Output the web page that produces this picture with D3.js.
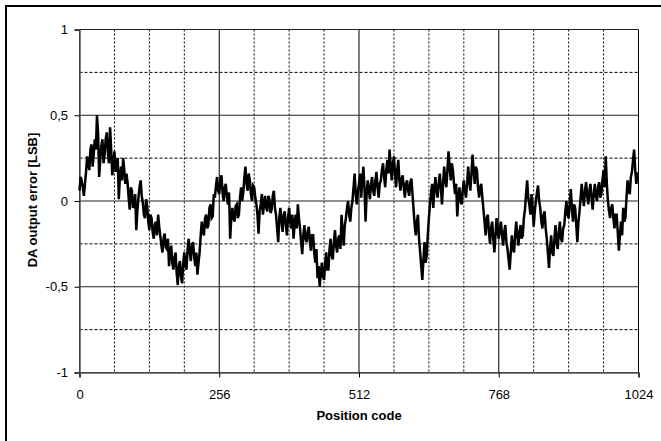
<!DOCTYPE html>
<html>
<head>
<meta charset="utf-8">
<style>
body, html {
	margin: 0;
	width: 661px;
	height: 441px;
	background: #fff;
	overflow: hidden;
}
svg text {
	font-family: "Liberation Sans", Arial, sans-serif;
	font-size: 13px;
	fill: #000;
}
</style>
</head>
<body>
<div id="chartContainer"></div>
<script src="https://cdn.jsdelivr.net/npm/d3@7"></script>
<script>

// position code step between samples
const CODE_STEP = 2;

// DA output error [LSB], one value every CODE_STEP codes
const errorValues = [
	0.06, 0.14, 0.12, 0.08, 0.03, 0.10, 0.17, 0.26, 0.22, 0.18, 0.30, 0.33, 0.20, 0.27, 0.36, 0.30,
	0.50, 0.40, 0.14, 0.24, 0.32, 0.36, 0.22, 0.27, 0.36, 0.40, 0.28, 0.22, 0.43, 0.30, 0.15, 0.22,
	0.29, 0.17, 0.21, 0.25, 0.01, 0.14, 0.20, 0.12, 0.25, 0.18, 0.10, 0.16, 0.11, 0.02, -0.05, 0.08,
	0.06, -0.04, -0.02, 0.04, -0.17, -0.06, 0.02, 0.08, 0.12, 0.03, -0.01, -0.08, -0.10, 0.01, -0.03, -0.12,
	-0.17, -0.08, -0.10, -0.18, -0.22, -0.14, -0.12, -0.20, -0.08, -0.15, -0.20, -0.26, -0.30, -0.22, -0.19, -0.27,
	-0.28, -0.22, -0.38, -0.30, -0.26, -0.36, -0.40, -0.33, -0.30, -0.42, -0.49, -0.38, -0.35, -0.44, -0.48, -0.36,
	-0.30, -0.38, -0.40, -0.28, -0.22, -0.30, -0.35, -0.26, -0.24, -0.32, -0.38, -0.30, -0.43, -0.36, -0.30, -0.20,
	-0.12, -0.18, -0.20, -0.10, -0.08, -0.16, -0.14, -0.04, -0.02, -0.10, -0.09, 0.04, 0.02, 0.09, 0.14, 0.06,
	0.04, 0.12, 0.15, 0.05, 0.00, 0.08, 0.10, 0.02, -0.02, 0.05, -0.22, -0.10, -0.04, -0.10, -0.12, -0.03,
	-0.02, -0.10, -0.08, 0.02, 0.08, 0.00, 0.05, 0.14, 0.20, 0.10, 0.06, 0.16, 0.12, 0.04, 0.00, 0.09,
	0.08, 0.02, -0.02, -0.08, -0.19, -0.06, -0.02, 0.04, -0.08, -0.02, 0.03, -0.04, -0.06, 0.03, 0.01, -0.07,
	-0.05, 0.03, 0.06, -0.04, -0.08, -0.16, -0.24, -0.10, -0.04, -0.12, -0.18, -0.08, -0.06, -0.14, -0.20, -0.10,
	-0.04, -0.12, -0.16, -0.08, -0.22, -0.14, -0.08, -0.16, -0.02, -0.10, -0.16, -0.24, -0.31, -0.20, -0.14, -0.22,
	-0.24, -0.18, -0.15, -0.24, -0.29, -0.20, -0.20, -0.30, -0.36, -0.28, -0.45, -0.38, -0.50, -0.42, -0.36, -0.44,
	-0.46, -0.36, -0.30, -0.40, -0.40, -0.28, -0.22, -0.32, -0.34, -0.24, -0.17, -0.26, -0.30, -0.22, -0.20, -0.28,
	-0.08, -0.18, -0.26, -0.14, -0.10, -0.04, 0.00, -0.08, -0.12, -0.04, 0.00, 0.08, 0.16, 0.04, -0.02, 0.06,
	0.10, 0.16, 0.02, 0.12, 0.20, 0.08, -0.12, 0.04, 0.12, 0.06, 0.01, 0.10, 0.14, 0.06, 0.03, 0.12,
	0.17, 0.08, 0.02, 0.10, 0.12, 0.18, 0.22, 0.14, 0.08, 0.18, 0.24, 0.16, 0.30, 0.20, 0.12, 0.22,
	0.26, 0.16, 0.08, 0.18, 0.24, 0.12, 0.06, 0.13, 0.15, 0.08, 0.02, 0.10, 0.12, 0.06, 0.03, 0.11,
	0.13, 0.04, -0.05, -0.14, -0.20, -0.12, -0.08, -0.22, -0.30, -0.38, -0.46, -0.34, -0.24, -0.36, -0.32, -0.20,
	-0.10, -0.02, 0.05, 0.10, -0.04, 0.06, 0.14, 0.06, 0.02, 0.10, 0.16, 0.08, -0.02, 0.10, 0.20, 0.12,
	0.08, 0.18, 0.29, 0.20, 0.12, 0.22, 0.18, 0.10, 0.04, 0.10, -0.09, 0.02, 0.08, 0.00, -0.02, 0.06,
	0.12, 0.06, 0.02, 0.10, 0.20, 0.12, 0.06, 0.16, 0.27, 0.18, 0.10, 0.20, 0.18, 0.08, 0.02, 0.08,
	0.10, 0.02, -0.05, -0.12, -0.20, -0.10, -0.08, -0.18, -0.25, -0.16, -0.12, -0.22, -0.30, -0.20, -0.10, -0.18,
	-0.22, -0.16, -0.12, -0.20, -0.26, -0.18, -0.14, -0.24, -0.28, -0.34, -0.40, -0.30, -0.20, -0.28, -0.30, -0.20,
	-0.12, -0.20, -0.26, -0.18, -0.14, -0.22, -0.20, -0.10, -0.05, 0.04, 0.12, 0.02, -0.02, -0.08, 0.04, -0.04,
	-0.15, -0.06, 0.00, 0.05, 0.09, 0.00, -0.04, -0.12, -0.16, -0.08, -0.06, -0.16, -0.22, -0.30, -0.39, -0.28,
	-0.20, -0.30, -0.32, -0.22, -0.14, -0.24, -0.28, -0.18, -0.12, -0.22, -0.24, -0.16, -0.14, -0.06, 0.00, -0.08,
	-0.10, -0.02, 0.07, -0.04, -0.12, -0.02, -0.04, -0.14, -0.24, -0.12, -0.06, 0.02, 0.10, 0.02, -0.03, 0.06,
	0.11, 0.03, -0.02, 0.06, 0.10, 0.02, -0.05, 0.04, 0.10, 0.03, 0.00, 0.08, 0.11, 0.02, 0.04, 0.12,
	0.18, 0.08, 0.26, 0.10, 0.00, -0.06, -0.10, -0.04, -0.02, -0.10, -0.16, -0.08, -0.08, -0.18, -0.29, -0.20,
	-0.12, -0.20, -0.04, -0.12, -0.10, 0.02, 0.12, 0.06, 0.04, 0.14, 0.17, 0.24, 0.30, 0.18, 0.10, 0.16,
	0.16
];

const xTicks = [0, 256, 512, 768, 1024];
const xMinorTicks = [64, 128, 192, 320, 384, 448, 576, 640, 704, 832, 896, 960];
const yTicks = [1, 0.5, 0, -0.5, -1];
const yMinorTicks = [0.75, 0.25, -0.25, -0.75];

const X_TITLE = "Position code";
const Y_TITLE = "DA output error [LSB]";

const WIDTH = 661;
const HEIGHT = 441;
const PLOT = { left: 79.5, right: 638.5, top: 29.5, bottom: 372.5 };

const svg = d3.select("#chartContainer").append("svg")
	.attr("width", WIDTH)
	.attr("height", HEIGHT);

// chart frame (only left and top edges are inside the picture)
svg.append("path")
	.attr("d", `M6,${HEIGHT} L6,6 L${WIDTH},6`)
	.attr("fill", "none")
	.attr("stroke", "#000")
	.attr("stroke-width", 2);

const x = d3.scaleLinear().domain([0, 1024]).range([PLOT.left, PLOT.right]);
const y = d3.scaleLinear().domain([-1, 1]).range([PLOT.bottom, PLOT.top]);

const grid = svg.append("g").attr("class", "grid");

grid.selectAll(".vminor")
	.data(xMinorTicks)
	.enter().append("line")
		.attr("x1", (d) => x(d)).attr("x2", (d) => x(d))
		.attr("y1", PLOT.top).attr("y2", PLOT.bottom)
		.attr("stroke", "#000")
		.attr("stroke-dasharray", "2,2");

grid.selectAll(".hminor")
	.data(yMinorTicks)
	.enter().append("line")
		.attr("x1", PLOT.left).attr("x2", PLOT.right)
		.attr("y1", (d) => y(d)).attr("y2", (d) => y(d))
		.attr("stroke", "#000")
		.attr("stroke-dasharray", "3,2");

grid.selectAll(".vmajor")
	.data(xTicks)
	.enter().append("line")
		.attr("x1", (d) => x(d)).attr("x2", (d) => x(d))
		.attr("y1", PLOT.top).attr("y2", PLOT.bottom)
		.attr("stroke", "#000");

grid.selectAll(".hmajor")
	.data(yTicks)
	.enter().append("line")
		.attr("x1", PLOT.left).attr("x2", PLOT.right)
		.attr("y1", (d) => y(d)).attr("y2", (d) => y(d))
		.attr("stroke", "#222");

// axes
const fmt = (d) => String(d).replace(".", ",");

svg.append("g")
	.attr("transform", `translate(0,${PLOT.bottom})`)
	.call(d3.axisBottom(x).tickValues(xTicks).tickSize(5).tickPadding(12).tickFormat(fmt))
	.call((g) => g.select(".domain").attr("stroke", "#555").attr("stroke-width", 1.5))
	.call((g) => g.selectAll("text").attr("font-family", null).attr("font-size", null));

svg.append("g")
	.attr("transform", `translate(${PLOT.left},0)`)
	.call(d3.axisLeft(y).tickValues(yTicks).tickSize(5).tickPadding(6.5).tickFormat(fmt))
	.call((g) => g.select(".domain").attr("stroke", "#555").attr("stroke-width", 1.5))
	.call((g) => g.selectAll("text").attr("font-family", null).attr("font-size", null));

svg.append("text")
	.attr("x", 359)
	.attr("y", 420)
	.attr("text-anchor", "middle")
	.attr("font-weight", "bold")
	.text(X_TITLE);

svg.append("text")
	.attr("transform", `translate(37,200) rotate(-90)`)
	.attr("text-anchor", "middle")
	.attr("font-weight", "bold")
	.text(Y_TITLE);

// data line
const line = d3.line()
	.x((d, i) => x(Math.min(i * CODE_STEP, 1023)))
	.y((d) => y(d));

svg.append("path")
	.datum(errorValues)
	.attr("d", line)
	.attr("fill", "none")
	.attr("stroke", "#000")
	.attr("stroke-width", 2.5)
	.attr("stroke-linejoin", "miter");

</script>
</body>
</html>
